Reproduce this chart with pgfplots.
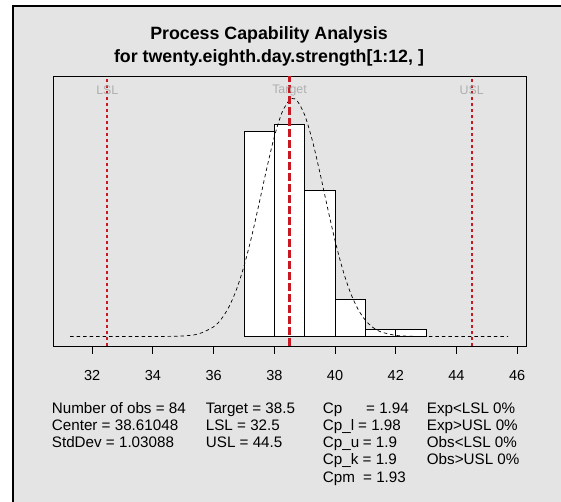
\documentclass[border=0pt]{standalone}
\usepackage{pgfplots}
\pgfplotsset{compat=1.18}
\usepackage{fontspec}
\setmainfont{Liberation Sans}
\definecolor{bg}{RGB}{228,228,228}
\definecolor{specred}{RGB}{200,25,35}
\definecolor{lblgray}{RGB}{175,175,175}
\begin{document}
\begin{tikzpicture}[x=1pt,y=1pt]
\path[use as bounding box] (0,0) rectangle (561,502);
\fill[white] (0,0) rectangle (561,502);
\fill[bg] (13,0) rectangle (561,496);
\draw[black, line width=2pt] (13,0) -- (13,496) -- (561,496);
% title
\node[anchor=base, inner sep=0pt, font=\fontsize{17.8}{17.8}\selectfont\bfseries] at (269,462.5) {Process Capability Analysis};
\node[anchor=base, inner sep=0pt, font=\fontsize{17.8}{17.8}\selectfont\bfseries] at (269,439) {for twenty.eighth.day.strength[1:12, ]};
\begin{axis}[
  at={(53pt,156pt)}, anchor=south west,
  scale only axis, width=473pt, height=270pt,
  xmin=30.71, xmax=46.29, ymin=-0.0155, ymax=0.4237,
  axis line style={line width=0.9pt, black},
  xtick={32,34,...,46}, ytick=\empty,
  xtick pos=bottom, tick align=outside,
  major tick length=8pt,
  tick style={black, line width=0.8pt},
  /pgf/number format/assume math mode=true,
  xticklabel style={font=\fontsize{14.5}{14.5}\selectfont, yshift=-13pt},
]
\addplot[ybar interval, fill=white, draw=black, line width=0.8pt] coordinates {
(37,0.33333) (38,0.34524) (39,0.23810) (40,0.05952) (41,0.01190) (42,0.01190) (43,0.01190)};
\addplot[black, line width=0.7pt, dash pattern=on 3.5pt off 3pt, smooth] coordinates {
(31.27,0) (33,0) (34,0.00001) (34.5,0.000137) (35,0.000839) (35.5,0.004083) (36,0.01567)
(36.25,0.02813) (36.5,0.04760) (36.75,0.07593) (37,0.11422) (37.25,0.16200) (37.5,0.21664)
(37.75,0.27315) (38,0.32477) (38.25,0.36404) (38.5,0.38477) (38.61,0.38699) (38.75,0.38346)
(39,0.36033) (39.25,0.31925) (39.5,0.26670) (39.75,0.21007) (40,0.15601) (40.25,0.10926)
(40.5,0.07214) (40.75,0.04491) (41,0.02637) (41.25,0.01459) (41.5,0.007617) (42,0.001740)
(42.5,0.000314) (43,0.00004) (44,0) (45.7,0)};
\addplot[specred, line width=2pt, dash pattern=on 3pt off 3pt] coordinates {(32.5,-0.0155) (32.5,0.4237)};
\addplot[specred, line width=2pt, dash pattern=on 3pt off 3pt] coordinates {(44.5,-0.0155) (44.5,0.4237)};
\addplot[specred, line width=3pt, dash pattern=on 8pt off 3pt] coordinates {(38.5,-0.0155) (38.5,0.4237)};
\node[lblgray, font=\fontsize{12.4}{12.4}\selectfont, inner sep=0pt] at (axis cs:32.5,0.3998) {LSL};
\node[lblgray, font=\fontsize{12.4}{12.4}\selectfont, inner sep=0pt] at (axis cs:38.5,0.3998) {Target};
\node[lblgray, font=\fontsize{12.4}{12.4}\selectfont, inner sep=0pt] at (axis cs:44.5,0.3998) {USL};
\end{axis}
% summary text
\begin{scope}[every node/.style={anchor=base west, inner sep=0pt, font=\fontsize{15.2}{15.2}\selectfont}]
\node at (51.7,88.7) {Number of obs = 84};
\node at (51.7,71.5) {Center = 38.61048};
\node at (51.7,54.3) {StdDev = 1.03088};
\node at (205.7,88.7) {Target = 38.5};
\node at (205.7,71.5) {LSL = 32.5};
\node at (205.7,54.3) {USL = 44.5};
\node at (322.7,88.7) {Cp};
\node at (366,88.7) {= 1.94};
\node at (322.7,71.5) {Cp\_l};
\node at (358,71.5) {= 1.98};
\node at (322.7,54.3) {Cp\_u};
\node at (362.7,54.3) {= 1.9};
\node at (322.7,37.1) {Cp\_k};
\node at (362.5,37.1) {= 1.9};
\node at (322.7,19.9) {Cpm};
\node at (363,19.9) {= 1.93};
\node at (426.7,88.7) {Exp<LSL 0\%};
\node at (426.7,71.5) {Exp>USL 0\%};
\node at (426.7,54.3) {Obs<LSL 0\%};
\node at (426.7,37.1) {Obs>USL 0\%};
\end{scope}
\end{tikzpicture}
\end{document}
